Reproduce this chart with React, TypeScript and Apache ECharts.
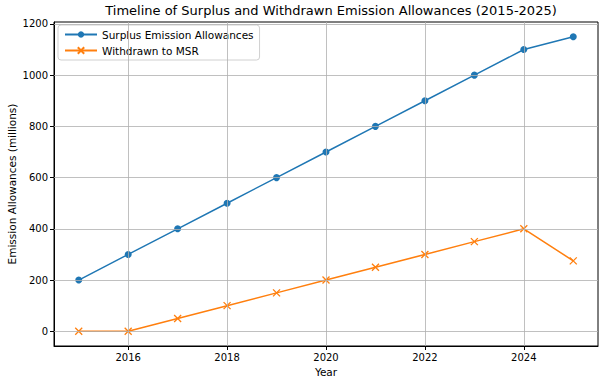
import React, { useEffect, useRef } from "react";
import * as echarts from "echarts";

const years = [2015, 2016, 2017, 2018, 2019, 2020, 2021, 2022, 2023, 2024, 2025];
const surplus = [200, 300, 400, 500, 600, 700, 800, 900, 1000, 1100, 1150];
const withdrawn = [0, 0, 50, 100, 150, 200, 250, 300, 350, 400, 275];
const xTicks = [2016, 2018, 2020, 2022, 2024];
const yTicks = [0, 200, 400, 600, 800, 1000, 1200];

export default function App() {
  const ref = useRef<HTMLDivElement>(null);
  useEffect(() => {
    if (!ref.current) return;
    const chart = echarts.init(ref.current, null, { renderer: "svg" });
    const font = "DejaVu Sans";
    const gridStyle = { color: "#b0b0b0", width: 0.8, type: "solid" };
    chart.setOption({
      animation: false,
      textStyle: { fontFamily: font },
      title: {
        text: "Timeline of Surplus and Withdrawn Emission Allowances (2015-2025)",
        left: 326,
        textAlign: "center",
        top: 0,
        padding: [4, 5, 4, 5],
        textStyle: { fontFamily: font, fontSize: 13, fontWeight: "normal", color: "#000" },
      },
      grid: {
        left: 54,
        right: 6,
        top: 22,
        bottom: 38,
        containLabel: false,
        outerBoundsMode: "none",
        show: true,
        borderColor: "#000",
        borderWidth: 1,
        backgroundColor: "transparent",
      },
      legend: {
        orient: "vertical",
        left: 58,
        top: 25,
        padding: [4, 6, 4, 6],
        itemGap: 5,
        itemWidth: 32,
        itemHeight: 8,
        backgroundColor: "#fff",
        borderColor: "#d0d0d0",
        borderWidth: 1,
        borderRadius: 3,
        textStyle: { fontFamily: font, fontSize: 10.5, color: "#000" },
        data: ["Surplus Emission Allowances", "Withdrawn to MSR"],
      },
      xAxis: {
        type: "value",
        min: 2014.5,
        max: 2025.5,
        name: "Year",
        nameLocation: "middle",
        nameGap: 20,
        nameMoveOverlap: false,
        nameTextStyle: { fontFamily: font, fontSize: 10.5, color: "#000" },
        axisLine: { show: true, onZero: false, lineStyle: { color: "#000" } },
        axisTick: { show: true, customValues: xTicks, length: 4, lineStyle: { color: "#000" } },
        axisLabel: {
          customValues: xTicks,
          formatter: (v: number) => String(v),
          fontFamily: font,
          fontSize: 10,
          color: "#000",
          margin: 6,
        },
        splitLine: { show: false },
      },
      yAxis: {
        type: "value",
        min: -57.5,
        max: 1207.5,
        name: "Emission Allowances (millions)",
        nameLocation: "middle",
        nameGap: 37,
        nameMoveOverlap: false,
        nameTextStyle: { fontFamily: font, fontSize: 10.5, color: "#000" },
        axisLine: { show: true, onZero: false, lineStyle: { color: "#000" } },
        axisTick: { show: true, customValues: yTicks, length: 4, lineStyle: { color: "#000" } },
        axisLabel: {
          customValues: yTicks,
          formatter: (v: number) => String(v),
          fontFamily: font,
          fontSize: 10,
          color: "#000",
          margin: 6,
        },
        splitLine: { show: false },
      },
      series: [
        {
          name: "grid",
          type: "line",
          data: [],
          z: 0,
          silent: true,
          markLine: {
            silent: true,
            symbol: ["none", "none"],
            label: { show: false },
            lineStyle: gridStyle,
            data: [
              ...xTicks.map((x) => ({ xAxis: x })),
              ...yTicks.map((y) => ({ yAxis: y })),
            ],
          },
        },
        {
          name: "Surplus Emission Allowances",
          type: "line",
          z: 3,
          data: years.map((y, i) => [y, surplus[i]]),
          symbol: "circle",
          symbolSize: 7,
          itemStyle: { color: "#1f77b4" },
          lineStyle: { color: "#1f77b4", width: 1.5 },
        },
        {
          name: "Withdrawn to MSR",
          type: "line",
          z: 3,
          data: years.map((y, i) => [y, withdrawn[i]]),
          symbol: "path://M0,0L10,10M10,0L0,10",
          symbolSize: 7,
          itemStyle: { color: "#ff7f0e", borderColor: "#ff7f0e", borderWidth: 1.3 },
          lineStyle: { color: "#ff7f0e", width: 1.5 },
        },
      ],
    });
    return () => chart.dispose();
  }, []);
  return <div ref={ref} style={{ width: 604, height: 384, position: "absolute", left: 0, top: 0 }} />;
}
